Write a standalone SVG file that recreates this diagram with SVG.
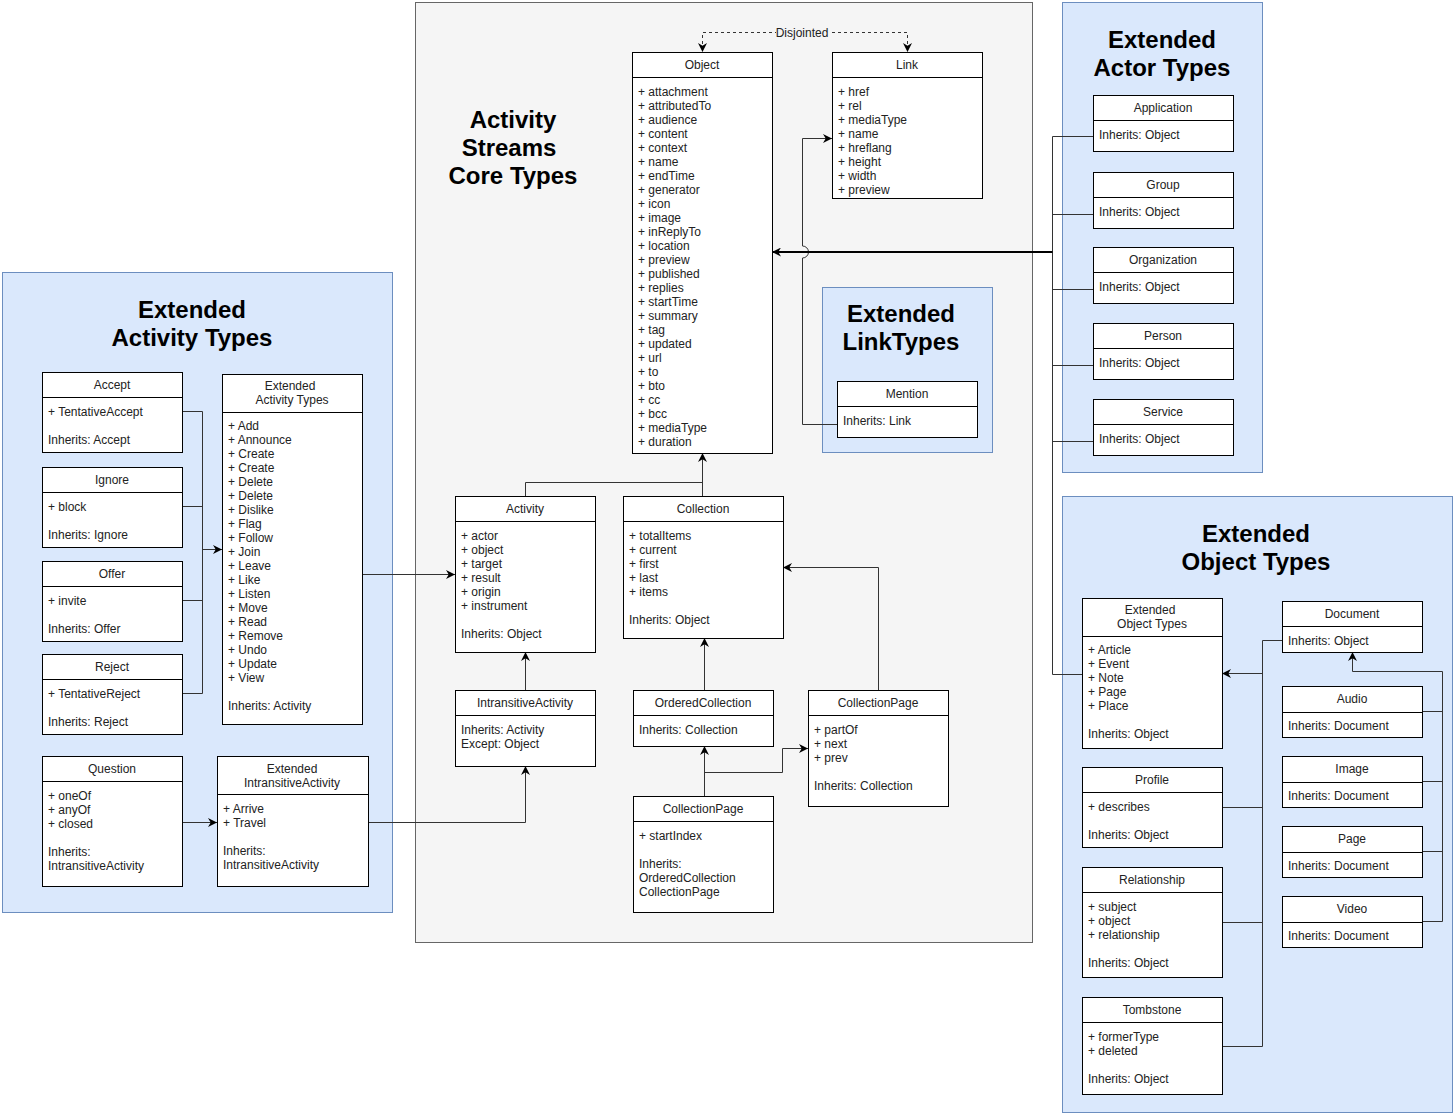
<svg xmlns="http://www.w3.org/2000/svg" width="1455" height="1115" viewBox="0 0 1455 1115">
<style>
.bg{fill:#fff}
.core{fill:#f5f5f5;stroke:#666;stroke-width:1}
.blue{fill:#dae8fc;stroke:#6c8ebf;stroke-width:1}
.box{fill:#fff;stroke:#000;stroke-width:1}
.div{stroke:#000;stroke-width:1}
text{font-family:"Liberation Sans",Arial,sans-serif;font-size:12px;fill:#222;transform:translateY(1px)}
.c{text-anchor:middle}
.h{font-size:24px;font-weight:bold;fill:#000;text-anchor:middle}
.e{fill:none;stroke:#333;stroke-width:1}
.a{marker-end:url(#arr)}
.d{stroke-dasharray:3,3}
.bus{fill:none;stroke:#000;stroke-width:2}
</style>
<defs>
<marker id="arr" viewBox="0 0 10 10" refX="10" refY="5" markerWidth="9" markerHeight="9" orient="auto" markerUnits="userSpaceOnUse"><path d="M0,0 L10,5 L0,10 L3,5 z" fill="#000"/></marker>
</defs>
<rect class="bg" x="0" y="0" width="1455" height="1115"/>

<g id="containers">
<rect class="core" x="415.5" y="2.5" width="617" height="940"/>
<rect class="blue" x="2.5" y="272.5" width="390" height="640"/>
<rect class="blue" x="1062.5" y="2.5" width="200" height="470"/>
<rect class="blue" x="822.5" y="287.5" width="170" height="165"/>
<rect class="blue" x="1062.5" y="496.5" width="390" height="616"/>
<text class="h"><tspan x="513" y="127">Activity</tspan><tspan x="509" y="155">Streams</tspan><tspan x="513" y="183">Core Types</tspan></text>
<text class="h"><tspan x="192" y="317">Extended</tspan><tspan x="192" y="345">Activity Types</tspan></text>
<text class="h"><tspan x="1162" y="47">Extended</tspan><tspan x="1162" y="75">Actor Types</tspan></text>
<text class="h"><tspan x="901" y="321">Extended</tspan><tspan x="901" y="349">LinkTypes</tspan></text>
<text class="h"><tspan x="1256" y="541">Extended</tspan><tspan x="1256" y="569">Object Types</tspan></text>
</g>

<g id="connectors">
<path class="e d a" d="M802,32.5 H702.5 V52"/>
<path class="e d a" d="M802,32.5 H907.5 V52"/>
<rect x="776" y="26" width="53" height="13" fill="#f5f5f5"/>
<text class="c" x="802" y="36">Disjointed</text>
<path class="e" d="M525.5,496 V482.5 H702.5"/>
<path class="e a" d="M702.5,496 V453"/>
<path class="e a" d="M525.5,690 V652"/>
<path class="e a" d="M704.5,690 V638"/>
<path class="e a" d="M878.5,690 V567.5 H783"/>
<path class="e a" d="M704.5,796 V746"/>
<path class="e a" d="M704.5,772.5 H782.5 V748.5 H808"/>
<path class="e a" d="M368,822.5 H525.5 V766"/>
<path class="e a" d="M182,822.5 H217"/>
<path class="e" d="M182,411.5 H202.5 V693.5 H182 M182,506.5 H202.5 M182,600.5 H202.5"/>
<path class="e a" d="M202.5,549.5 H222"/>
<path class="e a" d="M362,574.5 H455"/>
<path class="e a" d="M837,424.5 H802.5 V258 A6,6 0 0 0 802.5,246 V138.5 H832"/>
<path class="e" d="M1093,136.5 H1052.5 V674.5 H1082 M1093,214.5 H1052.5 M1093,289.5 H1052.5 M1093,365.5 H1052.5 M1093,441.5 H1052.5"/>
<path class="bus a" d="M1052.5,252 H772"/>
<path class="e" d="M1282,640.5 H1262.5 V1046.5 H1222 M1222,807.5 H1262.5 M1222,922.5 H1262.5"/>
<path class="e a" d="M1262.5,673.5 H1222"/>
<path class="e" d="M1422,711.5 H1442.5 M1422,781.5 H1442.5 M1422,851.5 H1442.5"/>
<path class="e a" d="M1422,921.5 H1442.5 V671.5 H1352.5 V652"/>
</g>

<g id="object">
<rect class="box" x="632.5" y="52.5" width="140" height="401"/>
<line class="div" x1="632.5" y1="77.5" x2="772.5" y2="77.5"/>
<text class="c" x="702" y="68">Object</text>
<text x="638"><tspan x="638" y="95">+ attachment</tspan><tspan x="638" dy="14">+ attributedTo</tspan><tspan x="638" dy="14">+ audience</tspan><tspan x="638" dy="14">+ content</tspan><tspan x="638" dy="14">+ context</tspan><tspan x="638" dy="14">+ name</tspan><tspan x="638" dy="14">+ endTime</tspan><tspan x="638" dy="14">+ generator</tspan><tspan x="638" dy="14">+ icon</tspan><tspan x="638" dy="14">+ image</tspan><tspan x="638" dy="14">+ inReplyTo</tspan><tspan x="638" dy="14">+ location</tspan><tspan x="638" dy="14">+ preview</tspan><tspan x="638" dy="14">+ published</tspan><tspan x="638" dy="14">+ replies</tspan><tspan x="638" dy="14">+ startTime</tspan><tspan x="638" dy="14">+ summary</tspan><tspan x="638" dy="14">+ tag</tspan><tspan x="638" dy="14">+ updated</tspan><tspan x="638" dy="14">+ url</tspan><tspan x="638" dy="14">+ to</tspan><tspan x="638" dy="14">+ bto</tspan><tspan x="638" dy="14">+ cc</tspan><tspan x="638" dy="14">+ bcc</tspan><tspan x="638" dy="14">+ mediaType</tspan><tspan x="638" dy="14">+ duration</tspan></text>
</g>

<g id="link">
<rect class="box" x="832.5" y="52.5" width="150" height="146"/>
<line class="div" x1="832.5" y1="77.5" x2="982.5" y2="77.5"/>
<text class="c" x="907" y="68">Link</text>
<text><tspan x="838" y="95">+ href</tspan><tspan x="838" dy="14">+ rel</tspan><tspan x="838" dy="14">+ mediaType</tspan><tspan x="838" dy="14">+ name</tspan><tspan x="838" dy="14">+ hreflang</tspan><tspan x="838" dy="14">+ height</tspan><tspan x="838" dy="14">+ width</tspan><tspan x="838" dy="14">+ preview</tspan></text>
</g>

<g id="mention">
<rect class="box" x="837.5" y="381.5" width="140" height="56"/>
<line class="div" x1="837.5" y1="406.5" x2="977.5" y2="406.5"/>
<text class="c" x="907" y="397">Mention</text>
<text x="843" y="424">Inherits: Link</text>
</g>

<g id="activity">
<rect class="box" x="455.5" y="496.5" width="140" height="156"/>
<line class="div" x1="455.5" y1="521.5" x2="595.5" y2="521.5"/>
<text class="c" x="525" y="512">Activity</text>
<text><tspan x="461" y="539">+ actor</tspan><tspan x="461" dy="14">+ object</tspan><tspan x="461" dy="14">+ target</tspan><tspan x="461" dy="14">+ result</tspan><tspan x="461" dy="14">+ origin</tspan><tspan x="461" dy="14">+ instrument</tspan><tspan x="461" dy="28">Inherits: Object</tspan></text>
</g>

<g id="collection">
<rect class="box" x="623.5" y="496.5" width="160" height="142"/>
<line class="div" x1="623.5" y1="521.5" x2="783.5" y2="521.5"/>
<text class="c" x="703" y="512">Collection</text>
<text><tspan x="629" y="539">+ totalItems</tspan><tspan x="629" dy="14">+ current</tspan><tspan x="629" dy="14">+ first</tspan><tspan x="629" dy="14">+ last</tspan><tspan x="629" dy="14">+ items</tspan><tspan x="629" dy="28">Inherits: Object</tspan></text>
</g>

<g id="intransitive-activity">
<rect class="box" x="455.5" y="690.5" width="140" height="76"/>
<line class="div" x1="455.5" y1="715.5" x2="595.5" y2="715.5"/>
<text class="c" x="525" y="706">IntransitiveActivity</text>
<text><tspan x="461" y="733">Inherits: Activity</tspan><tspan x="461" dy="14">Except: Object</tspan></text>
</g>

<g id="ordered-collection">
<rect class="box" x="633.5" y="690.5" width="140" height="56"/>
<line class="div" x1="633.5" y1="715.5" x2="773.5" y2="715.5"/>
<text class="c" x="703" y="706">OrderedCollection</text>
<text x="639" y="733">Inherits: Collection</text>
</g>

<g id="collection-page">
<rect class="box" x="808.5" y="690.5" width="140" height="116"/>
<line class="div" x1="808.5" y1="715.5" x2="948.5" y2="715.5"/>
<text class="c" x="878" y="706">CollectionPage</text>
<text><tspan x="814" y="733">+ partOf</tspan><tspan x="814" dy="14">+ next</tspan><tspan x="814" dy="14">+ prev</tspan><tspan x="814" dy="28">Inherits: Collection</tspan></text>
</g>

<g id="ordered-collection-page">
<rect class="box" x="633.5" y="796.5" width="140" height="116"/>
<line class="div" x1="633.5" y1="821.5" x2="773.5" y2="821.5"/>
<text class="c" x="703" y="812">CollectionPage</text>
<text><tspan x="639" y="839">+ startIndex</tspan><tspan x="639" dy="28">Inherits:</tspan><tspan x="639" dy="14">OrderedCollection</tspan><tspan x="639" dy="14">CollectionPage</tspan></text>
</g>

<g id="accept">
<rect class="box" x="42.5" y="372.5" width="140" height="80"/>
<line class="div" x1="42.5" y1="397.5" x2="182.5" y2="397.5"/>
<text class="c" x="112" y="388">Accept</text>
<text><tspan x="48" y="415">+ TentativeAccept</tspan><tspan x="48" dy="28">Inherits: Accept</tspan></text>
</g>

<g id="ignore">
<rect class="box" x="42.5" y="467.5" width="140" height="80"/>
<line class="div" x1="42.5" y1="492.5" x2="182.5" y2="492.5"/>
<text class="c" x="112" y="483">Ignore</text>
<text><tspan x="48" y="510">+ block</tspan><tspan x="48" dy="28">Inherits: Ignore</tspan></text>
</g>

<g id="offer">
<rect class="box" x="42.5" y="561.5" width="140" height="80"/>
<line class="div" x1="42.5" y1="586.5" x2="182.5" y2="586.5"/>
<text class="c" x="112" y="577">Offer</text>
<text><tspan x="48" y="604">+ invite</tspan><tspan x="48" dy="28">Inherits: Offer</tspan></text>
</g>

<g id="reject">
<rect class="box" x="42.5" y="654.5" width="140" height="80"/>
<line class="div" x1="42.5" y1="679.5" x2="182.5" y2="679.5"/>
<text class="c" x="112" y="670">Reject</text>
<text><tspan x="48" y="697">+ TentativeReject</tspan><tspan x="48" dy="28">Inherits: Reject</tspan></text>
</g>

<g id="extended-activity-types">
<rect class="box" x="222.5" y="374.5" width="140" height="350"/>
<line class="div" x1="222.5" y1="412.5" x2="362.5" y2="412.5"/>
<text class="c"><tspan x="290" y="389">Extended</tspan><tspan x="292" dy="14">Activity Types</tspan></text>
<text><tspan x="228" y="429">+ Add</tspan><tspan x="228" dy="14">+ Announce</tspan><tspan x="228" dy="14">+ Create</tspan><tspan x="228" dy="14">+ Create</tspan><tspan x="228" dy="14">+ Delete</tspan><tspan x="228" dy="14">+ Delete</tspan><tspan x="228" dy="14">+ Dislike</tspan><tspan x="228" dy="14">+ Flag</tspan><tspan x="228" dy="14">+ Follow</tspan><tspan x="228" dy="14">+ Join</tspan><tspan x="228" dy="14">+ Leave</tspan><tspan x="228" dy="14">+ Like</tspan><tspan x="228" dy="14">+ Listen</tspan><tspan x="228" dy="14">+ Move</tspan><tspan x="228" dy="14">+ Read</tspan><tspan x="228" dy="14">+ Remove</tspan><tspan x="228" dy="14">+ Undo</tspan><tspan x="228" dy="14">+ Update</tspan><tspan x="228" dy="14">+ View</tspan><tspan x="228" dy="28">Inherits: Activity</tspan></text>
</g>

<g id="question">
<rect class="box" x="42.5" y="756.5" width="140" height="130"/>
<line class="div" x1="42.5" y1="781.5" x2="182.5" y2="781.5"/>
<text class="c" x="112" y="772">Question</text>
<text><tspan x="48" y="799">+ oneOf</tspan><tspan x="48" dy="14">+ anyOf</tspan><tspan x="48" dy="14">+ closed</tspan><tspan x="48" dy="28">Inherits:</tspan><tspan x="48" dy="14">IntransitiveActivity</tspan></text>
</g>

<g id="extended-intransitive-activity">
<rect class="box" x="217.5" y="756.5" width="151" height="130"/>
<line class="div" x1="217.5" y1="794.5" x2="368.5" y2="794.5"/>
<text class="c"><tspan x="292" y="772">Extended</tspan><tspan x="292" dy="14">IntransitiveActivity</tspan></text>
<text><tspan x="223" y="812">+ Arrive</tspan><tspan x="223" dy="14">+ Travel</tspan><tspan x="223" dy="28">Inherits:</tspan><tspan x="223" dy="14">IntransitiveActivity</tspan></text>
</g>

<g id="application">
<rect class="box" x="1093.5" y="95.5" width="140" height="56"/>
<line class="div" x1="1093.5" y1="120.5" x2="1233.5" y2="120.5"/>
<text class="c" x="1163" y="111">Application</text>
<text x="1099" y="138">Inherits: Object</text>
</g>
<g id="group">
<rect class="box" x="1093.5" y="172.5" width="140" height="56"/>
<line class="div" x1="1093.5" y1="197.5" x2="1233.5" y2="197.5"/>
<text class="c" x="1163" y="188">Group</text>
<text x="1099" y="215">Inherits: Object</text>
</g>
<g id="organization">
<rect class="box" x="1093.5" y="247.5" width="140" height="56"/>
<line class="div" x1="1093.5" y1="272.5" x2="1233.5" y2="272.5"/>
<text class="c" x="1163" y="263">Organization</text>
<text x="1099" y="290">Inherits: Object</text>
</g>
<g id="person">
<rect class="box" x="1093.5" y="323.5" width="140" height="56"/>
<line class="div" x1="1093.5" y1="348.5" x2="1233.5" y2="348.5"/>
<text class="c" x="1163" y="339">Person</text>
<text x="1099" y="366">Inherits: Object</text>
</g>
<g id="service">
<rect class="box" x="1093.5" y="399.5" width="140" height="56"/>
<line class="div" x1="1093.5" y1="424.5" x2="1233.5" y2="424.5"/>
<text class="c" x="1163" y="415">Service</text>
<text x="1099" y="442">Inherits: Object</text>
</g>

<g id="extended-object-types">
<rect class="box" x="1082.5" y="598.5" width="140" height="150"/>
<line class="div" x1="1082.5" y1="636.5" x2="1222.5" y2="636.5"/>
<text class="c"><tspan x="1150" y="613">Extended</tspan><tspan x="1152" dy="14">Object Types</tspan></text>
<text><tspan x="1088" y="653">+ Article</tspan><tspan x="1088" dy="14">+ Event</tspan><tspan x="1088" dy="14">+ Note</tspan><tspan x="1088" dy="14">+ Page</tspan><tspan x="1088" dy="14">+ Place</tspan><tspan x="1088" dy="28">Inherits: Object</tspan></text>
</g>

<g id="profile">
<rect class="box" x="1082.5" y="767.5" width="140" height="80"/>
<line class="div" x1="1082.5" y1="792.5" x2="1222.5" y2="792.5"/>
<text class="c" x="1152" y="783">Profile</text>
<text><tspan x="1088" y="810">+ describes</tspan><tspan x="1088" dy="28">Inherits: Object</tspan></text>
</g>

<g id="relationship">
<rect class="box" x="1082.5" y="867.5" width="140" height="110"/>
<line class="div" x1="1082.5" y1="892.5" x2="1222.5" y2="892.5"/>
<text class="c" x="1152" y="883">Relationship</text>
<text><tspan x="1088" y="910">+ subject</tspan><tspan x="1088" dy="14">+ object</tspan><tspan x="1088" dy="14">+ relationship</tspan><tspan x="1088" dy="28">Inherits: Object</tspan></text>
</g>

<g id="tombstone">
<rect class="box" x="1082.5" y="997.5" width="140" height="97"/>
<line class="div" x1="1082.5" y1="1022.5" x2="1222.5" y2="1022.5"/>
<text class="c" x="1152" y="1013">Tombstone</text>
<text><tspan x="1088" y="1040">+ formerType</tspan><tspan x="1088" dy="14">+ deleted</tspan><tspan x="1088" dy="28">Inherits: Object</tspan></text>
</g>

<g id="document">
<rect class="box" x="1282.5" y="601.5" width="140" height="51"/>
<line class="div" x1="1282.5" y1="626.5" x2="1422.5" y2="626.5"/>
<text class="c" x="1352" y="617">Document</text>
<text x="1288" y="644">Inherits: Object</text>
</g>
<g id="audio">
<rect class="box" x="1282.5" y="686.5" width="140" height="51"/>
<line class="div" x1="1282.5" y1="712.5" x2="1422.5" y2="712.5"/>
<text class="c" x="1352" y="702">Audio</text>
<text x="1288" y="729">Inherits: Document</text>
</g>
<g id="image">
<rect class="box" x="1282.5" y="756.5" width="140" height="51"/>
<line class="div" x1="1282.5" y1="782.5" x2="1422.5" y2="782.5"/>
<text class="c" x="1352" y="772">Image</text>
<text x="1288" y="799">Inherits: Document</text>
</g>
<g id="page">
<rect class="box" x="1282.5" y="826.5" width="140" height="51"/>
<line class="div" x1="1282.5" y1="852.5" x2="1422.5" y2="852.5"/>
<text class="c" x="1352" y="842">Page</text>
<text x="1288" y="869">Inherits: Document</text>
</g>
<g id="video">
<rect class="box" x="1282.5" y="896.5" width="140" height="51"/>
<line class="div" x1="1282.5" y1="922.5" x2="1422.5" y2="922.5"/>
<text class="c" x="1352" y="912">Video</text>
<text x="1288" y="939">Inherits: Document</text>
</g>
</svg>
